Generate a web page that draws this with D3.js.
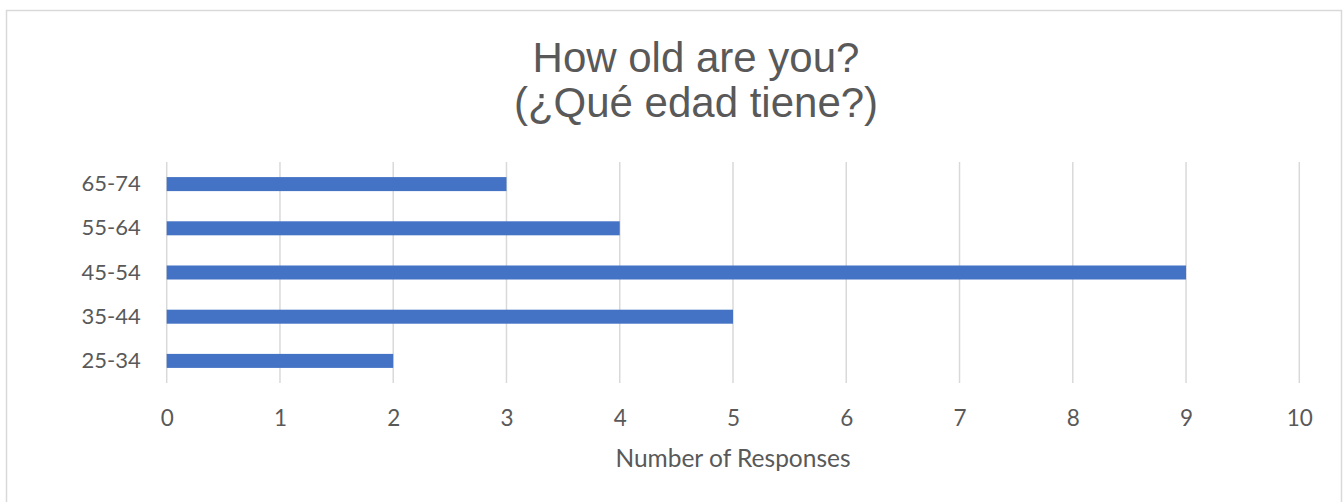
<!DOCTYPE html>
<html>
<head>
<meta charset="utf-8">
<script src="https://cdn.jsdelivr.net/npm/d3@7"></script>
<style>
  html, body { margin: 0; padding: 0; background: #ffffff; }
  svg { display: block; }
</style>
</head>
<body>
<svg id="chart" width="1343" height="502"></svg>
<script>
// Age groups, listed from the bottom bar to the top bar
const categories = ["25-34", "35-44", "45-54", "55-64", "65-74"];
// Number of responses for each age group
const responses = [2, 5, 9, 4, 3];
// Value-axis ticks
const xTicks = [0, 1, 2, 3, 4, 5, 6, 7, 8, 9, 10];
const titleLines = ["How old are you?", "(¿Qué edad tiene?)"];
const xAxisTitle = "Number of Responses";

const W = 1343, H = 502;
const plot = { left: 166.7, right: 1299.3, top: 162, bottom: 383 };
const gray = "#d9d9d9";
const textColor = "#595959";
const labelFont = "Lato, 'Open Sans', sans-serif";

const svg = d3.select("#chart");

// Chart frame (its lower edge runs past the bottom of the view)
svg.append("rect")
  .attr("x", 6.5).attr("y", 10.5)
  .attr("width", 1335).attr("height", 520)
  .attr("fill", "#ffffff")
  .attr("stroke", gray)
  .attr("stroke-width", 1.5);

const x = d3.scaleLinear().domain([0, 10]).range([plot.left, plot.right]);
const y = d3.scaleBand()
  .domain(categories.slice().reverse())
  .range([plot.top, plot.bottom])
  .paddingInner(0.683)
  .paddingOuter(0.3415);

// Vertical gridlines
svg.append("g")
  .selectAll("line")
  .data(xTicks)
  .join("line")
  .attr("x1", d => x(d)).attr("x2", d => x(d))
  .attr("y1", plot.top).attr("y2", plot.bottom)
  .attr("stroke", gray)
  .attr("stroke-width", 1.5);

// Bars
const data = categories.map((c, i) => ({ category: c, value: responses[i] }));
svg.append("g")
  .selectAll("rect")
  .data(data)
  .join("rect")
  .attr("x", x(0))
  .attr("y", d => y(d.category))
  .attr("width", d => x(d.value) - x(0))
  .attr("height", y.bandwidth())
  .attr("fill", "#4472c4");

// Category axis
const yAxis = svg.append("g")
  .attr("transform", `translate(${plot.left},0)`)
  .call(d3.axisLeft(y).tickSize(0).tickPadding(26));
yAxis.select(".domain").remove();
yAxis.selectAll("text")
  .attr("fill", textColor)
  .style("font-family", labelFont)
  .style("font-size", "22px");

// Value axis
const xAxis = svg.append("g")
  .attr("transform", `translate(0,${plot.bottom})`)
  .call(d3.axisBottom(x).tickValues(xTicks).tickSize(0).tickPadding(27));
xAxis.select(".domain").remove();
xAxis.selectAll("text")
  .attr("fill", textColor)
  .style("font-family", labelFont)
  .style("font-size", "22.5px");

// Value axis title
svg.append("text")
  .attr("x", (plot.left + plot.right) / 2)
  .attr("y", 467)
  .attr("text-anchor", "middle")
  .attr("fill", textColor)
  .style("font-family", labelFont)
  .style("font-size", "24.5px")
  .text(xAxisTitle);

// Chart title
svg.append("text")
  .attr("text-anchor", "middle")
  .attr("fill", textColor)
  .style("font-family", "'Liberation Sans', Arial, sans-serif")
  .style("font-size", "42px")
  .selectAll("tspan")
  .data(titleLines)
  .join("tspan")
  .attr("x", 696)
  .attr("y", (d, i) => 72 + i * 45)
  .text(d => d);
</script>
</body>
</html>
